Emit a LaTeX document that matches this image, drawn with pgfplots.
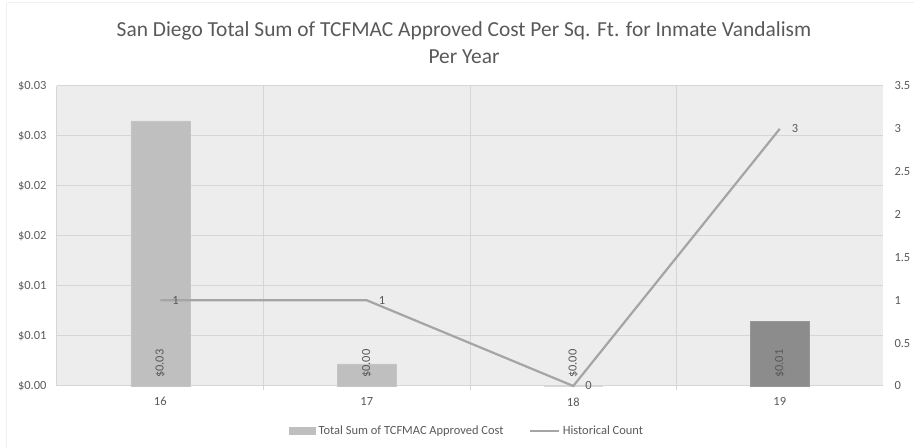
\documentclass[border=0pt]{standalone}
\usepackage{pgfplots}
\pgfplotsset{compat=1.18}
\usepackage{fontspec}
\setmainfont{Carlito}
\definecolor{barlight}{RGB}{191,191,191}
\definecolor{bardark}{RGB}{140,140,140}
\definecolor{linegray}{RGB}{165,165,165}
\definecolor{gridgray}{RGB}{214,214,214}
\definecolor{txtgray}{RGB}{89,89,89}
\definecolor{bggray}{RGB}{237,237,237}
\begin{document}
\begin{tikzpicture}[x=1bp,y=1bp]
\useasboundingbox (-57,-62) rectangle (857,386);
\draw[color=black!6, line width=1bp] (-50,383) -- (857,383);
\draw[color=black!6, line width=1bp] (-50,383) -- (-50,-62);
\begin{axis}[
  at={(0,0)}, anchor=south west,
  scale only axis, width=826bp, height=300bp,
  xmin=-0.5, xmax=3.5, ymin=0, ymax=0.03,
  scaled y ticks=false,
  axis background/.style={fill=bggray},
  xtick={0,1,2,3}, xticklabels={16,17,18,19},
  minor xtick={0.5,1.5,2.5},
  minor x grid style={gridgray, line width=1bp},
  xminorgrids=true,
  ytick={0,0.005,0.01,0.015,0.02,0.025,0.03},
  yticklabels={\$0.00,\$0.01,\$0.01,\$0.02,\$0.02,\$0.03,\$0.03},
  ymajorgrids=true,
  major grid style={gridgray, line width=1bp},
  axis y line*=left,
  axis x line*=bottom,
  x axis line style={draw=gridgray, line width=1bp, -},
  y axis line style={draw=gridgray, line width=1bp, -},
  major tick length=0pt,
  minor tick length=4bp,
  tick align=outside,
  minor tick style={draw=gridgray, line width=1bp},
  ticklabel style={font=\fontsize{12.5}{14}\selectfont, text=txtgray},
  yticklabel style={xshift=-7bp},
  xticklabel style={yshift=-8bp},
  clip=false,
]
\addplot[ybar, bar width=59bp, bar shift=0pt, fill=barlight, draw=barlight!90!white] coordinates {(0,0.0265) (1,0.0022) (2,0)};
\addplot[ybar, bar width=59bp, bar shift=0pt, fill=bardark, draw=bardark!90!white] coordinates {(3,0.00643)};
\addplot[draw=none, mark=none, nodes near coords, point meta=explicit symbolic,
  every node near coord/.style={rotate=90, anchor=west, inner xsep=8bp, inner ysep=0pt, font=\fontsize{12.5}{14}\selectfont, text=txtgray}]
  coordinates {(0,0) [\$0.03] (1,0) [\$0.00] (2,0) [\$0.00] (3,0) [\$0.01]};
\end{axis}
\begin{axis}[
  at={(0,0)}, anchor=south west,
  scale only axis, width=826bp, height=300bp,
  xmin=-0.5, xmax=3.5, ymin=0, ymax=3.5,
  axis y line*=right,
  axis x line=none,
  y axis line style={draw=none},
  ytick={0,0.5,1,1.5,2,2.5,3,3.5},
  yticklabels={0,0.5,1,1.5,2,2.5,3,3.5},
  major tick length=0pt,
  ticklabel style={font=\fontsize{12.5}{14}\selectfont, text=txtgray},
  yticklabel style={xshift=8bp},
  clip=false,
  legend style={at={(0.496,-0.15)}, anchor=center, draw=none, fill=none,
    font=\fontsize{12.5}{14}\selectfont, text=txtgray, legend columns=2,
    nodes={inner sep=1bp},
    /tikz/every odd column/.append style={column sep=2bp},
    /tikz/every even column/.append style={column sep=24bp}},
]
\addlegendimage{legend image code/.code={\fill[barlight] (0bp,-3.5bp) rectangle (26bp,3.5bp);}}
\addlegendentry{Total Sum of TCFMAC Approved Cost}
\addplot[color=linegray, line width=2.2bp, mark=none,
  legend image code/.code={\draw[linegray, line width=2.2bp] (0bp,0bp) -- (29bp,0bp);},
  nodes near coords, point meta=explicit symbolic,
  every node near coord/.style={anchor=west, inner sep=0pt, xshift=11bp, font=\fontsize{12.5}{14}\selectfont, text=txtgray}]
  coordinates {(0,1) [1] (1,1) [1] (2,0) [0] (3,3) [3]};
\addlegendentry{Historical Count}
\end{axis}
\node[align=center, text=txtgray, font=\fontsize{21.5}{27}\selectfont] at (407,343) {San Diego Total Sum of TCFMAC Approved Cost Per Sq. Ft. for Inmate Vandalism\\Per Year};
\end{tikzpicture}
\end{document}
